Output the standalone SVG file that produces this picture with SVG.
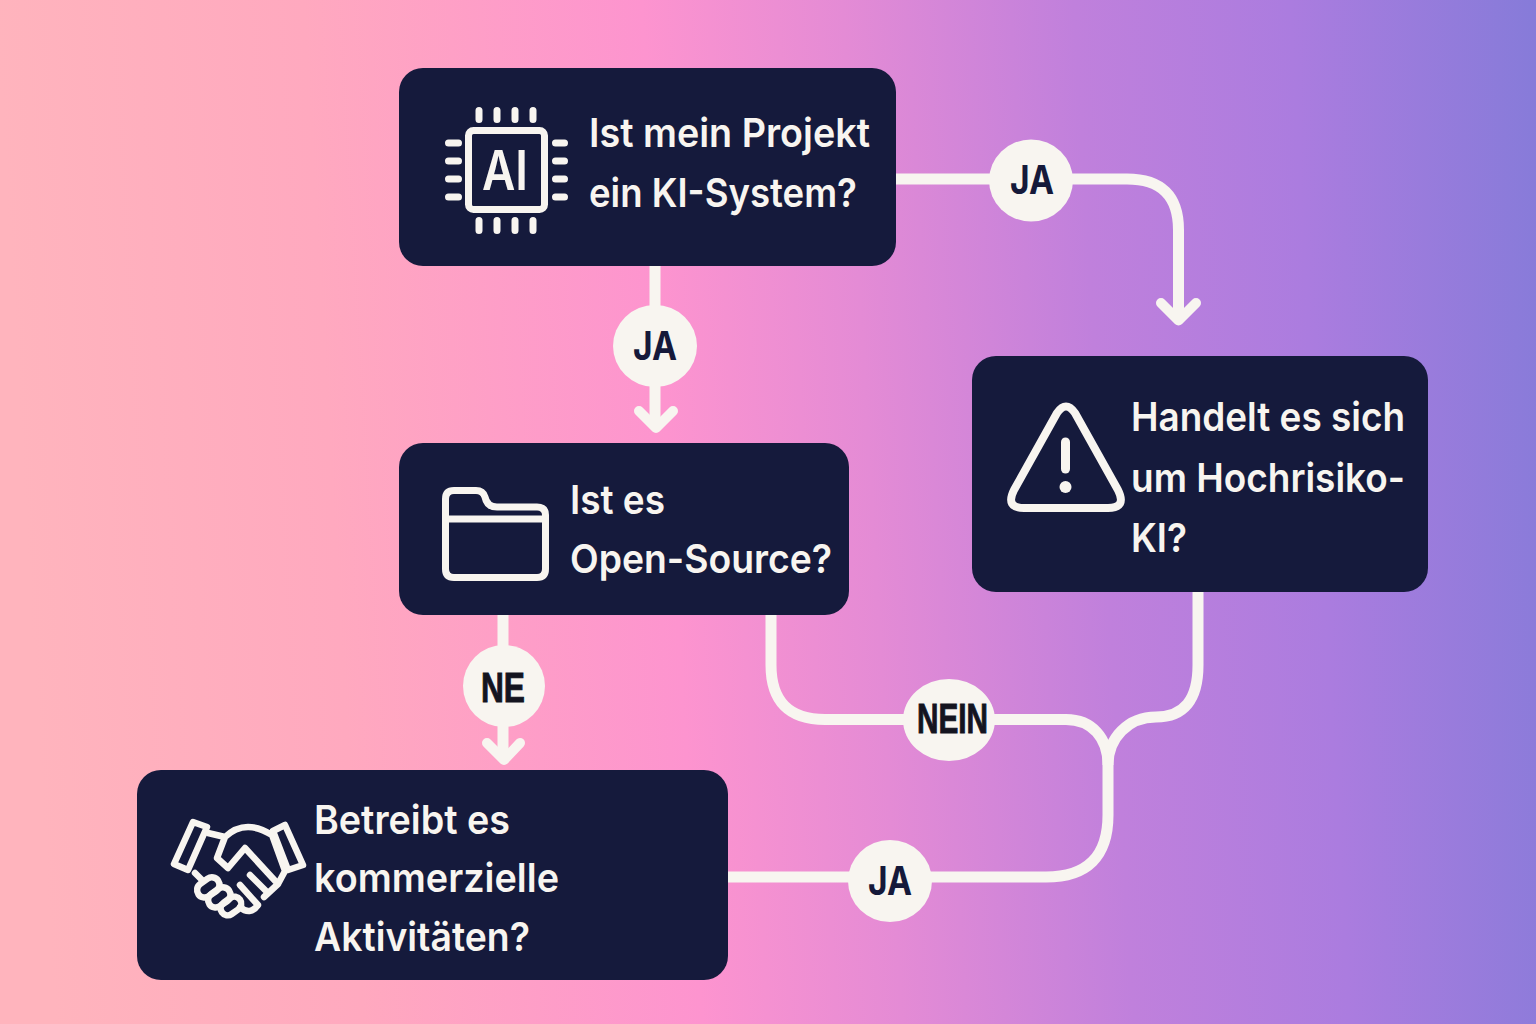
<svg xmlns="http://www.w3.org/2000/svg" width="1536" height="1024" viewBox="0 0 1536 1024">
<defs>
<linearGradient id="bg" gradientUnits="userSpaceOnUse" x1="0" y1="90" x2="1536" y2="0">
<stop offset="0" stop-color="#ffb4bd"/><stop offset="0.2" stop-color="#ffa9bf"/><stop offset="0.42" stop-color="#fd94cf"/><stop offset="0.55" stop-color="#e48bd5"/><stop offset="0.7" stop-color="#c080dc"/><stop offset="0.84" stop-color="#ab7cdf"/><stop offset="1" stop-color="#867bd9"/>
</linearGradient>
</defs>
<style>
.box{fill:#151a3c}
.line{fill:none;stroke:#f8f5f0;stroke-width:11}
.arrow{fill:none;stroke:#f8f5f0;stroke-width:10;stroke-linecap:round;stroke-linejoin:round}
.badge{fill:#f8f5f0}
.ico{fill:none;stroke:#f8f5f0;stroke-linejoin:round;stroke-linecap:round}
.t{font-family:Inter,"Liberation Sans",sans-serif;font-size:40px;font-weight:600;fill:#f8f5f0}
.b{font-family:Inter,"Liberation Sans",sans-serif;font-size:40px;font-weight:700;fill:#15193a;text-anchor:middle}
.n{font-family:"Liberation Sans",Inter,sans-serif;font-size:43px;font-weight:700;fill:#14141f;stroke:#14141f;stroke-width:1;text-anchor:middle}
</style>
<rect width="1536" height="1024" fill="url(#bg)"/>
<g id="connectors">
<path class="line" d="M896 179H1127Q1178.500 179 1178.500 230V318"/>
<path class="arrow" d="M1161 303L1178.500 320.500L1196 303"/>
<path class="line" d="M655 265V426"/>
<path class="arrow" d="M639 411L656 428L673 411"/>
<path class="line" d="M503 615V758"/>
<path class="arrow" d="M487 743L504 760L520 743"/>
<path class="line" d="M771 615V665Q771 719.500 825 719.500H1066C1092 719.500 1108 738 1108 765"/>
<path class="line" d="M1198 591V665Q1198 717 1156 717C1128 717 1108 738 1108 765V815Q1108 877 1046 877H728"/>
</g>
<g id="badge-ja-1"><ellipse class="badge" cx="1031" cy="180.500" rx="42" ry="41"/><text class="b" x="1032" y="194" textLength="44" lengthAdjust="spacingAndGlyphs">JA</text></g>
<g id="badge-ja-2"><ellipse class="badge" cx="655" cy="346" rx="42" ry="41"/><text class="b" x="655" y="360" textLength="44" lengthAdjust="spacingAndGlyphs">JA</text></g>
<g id="badge-ne"><ellipse class="badge" cx="504" cy="686" rx="41" ry="41"/><text class="n" x="503" y="702" textLength="44" lengthAdjust="spacingAndGlyphs">NE</text></g>
<g id="badge-nein"><ellipse class="badge" cx="949" cy="720" rx="46" ry="41"/><text class="n" x="952.500" y="733" textLength="71" lengthAdjust="spacingAndGlyphs">NEIN</text></g>
<g id="badge-ja-3"><ellipse class="badge" cx="890" cy="881" rx="42" ry="41"/><text class="b" x="890" y="895" textLength="44" lengthAdjust="spacingAndGlyphs">JA</text></g>
<g id="node-ki">
<rect class="box" x="399" y="68" width="497" height="198" rx="24"/>
<rect class="ico" x="468.500" y="130.500" width="76" height="79" rx="5" stroke-width="7"/>
<g class="ico" stroke-width="7"><path d="M479 110.500v9M497 110.500v9M515 110.500v9M533 110.500v9M479 220.500v10M497 220.500v10M515 220.500v10M533 220.500v10M448.500 143h10M448.500 161h10M448.500 179h10M448.500 197h10M555.500 143h9M555.500 161h9M555.500 179h9M555.500 197h9"/></g>
<text x="482" y="190" style="font-family:Inter,'Liberation Sans',sans-serif;font-size:55px;font-weight:600;fill:#f8f5f0" textLength="46" lengthAdjust="spacingAndGlyphs">AI</text>
<text class="t" x="589" y="147" textLength="281" lengthAdjust="spacingAndGlyphs">Ist mein Projekt</text>
<text class="t" x="589" y="207" textLength="268" lengthAdjust="spacingAndGlyphs">ein KI-System?</text>
</g>
<g id="node-opensource">
<rect class="box" x="399" y="443" width="450" height="172" rx="24"/>
<path class="ico" stroke-width="7" d="M454 490.500H476Q483 490.500 485 497Q487 507 497 507H537Q545.500 507 545.500 515V569Q545.500 577.500 537 577.500H454Q445.500 577.500 445.500 569V499Q445.500 490.500 454 490.500ZM445.500 519H545.500"/>
<text class="t" x="570" y="514" textLength="95" lengthAdjust="spacingAndGlyphs">Ist es</text>
<text class="t" x="570" y="573" textLength="262" lengthAdjust="spacingAndGlyphs">Open-Source?</text>
</g>
<g id="node-risk">
<rect class="box" x="972" y="356" width="456" height="236" rx="24"/>
<path class="ico" stroke-width="8" d="M1057 413Q1066 400 1075 413L1118 490Q1127 508 1108 508H1024Q1005 508 1014 490Z"/>
<path class="ico" stroke-width="9" d="M1065.500 442V469"/>
<circle cx="1065.500" cy="487" r="6" fill="#f8f5f0"/>
<text class="t" x="1131" y="431" textLength="274" lengthAdjust="spacingAndGlyphs">Handelt es sich</text>
<text class="t" x="1131" y="492" textLength="274" lengthAdjust="spacingAndGlyphs">um Hochrisiko-</text>
<text class="t" x="1131" y="552" textLength="56" lengthAdjust="spacingAndGlyphs">KI?</text>
</g>
<g id="node-commercial">
<rect class="box" x="137" y="770" width="591" height="210" rx="24"/>
<g class="ico" stroke-width="6.500">
<path d="M193 822L207 827L188 870L174 864ZM285 825L273 831L288 870L303 865Z"/>
<path d="M208 833L225 837M225 837Q245 818 272 835M225 837L217 858L228 868L245 848L278 884M272 835L285 871L278 884L264 897M195 873L202 880M250 875L268 893M240 885L258 905Q250 916 240 907"/>
<rect x="196" y="880" width="24" height="15" rx="7.500" transform="rotate(-35 208 887)"/>
<rect x="207" y="890" width="24" height="15" rx="7.500" transform="rotate(-35 219 897)"/>
<rect x="220" y="899" width="22" height="14" rx="7" transform="rotate(-35 231 906)"/>
</g>
<text class="t" x="314" y="834" textLength="196" lengthAdjust="spacingAndGlyphs">Betreibt es</text>
<text class="t" x="314" y="892" textLength="245" lengthAdjust="spacingAndGlyphs">kommerzielle</text>
<text class="t" x="314" y="951" textLength="216" lengthAdjust="spacingAndGlyphs">Aktivitäten?</text>
</g>
</svg>
